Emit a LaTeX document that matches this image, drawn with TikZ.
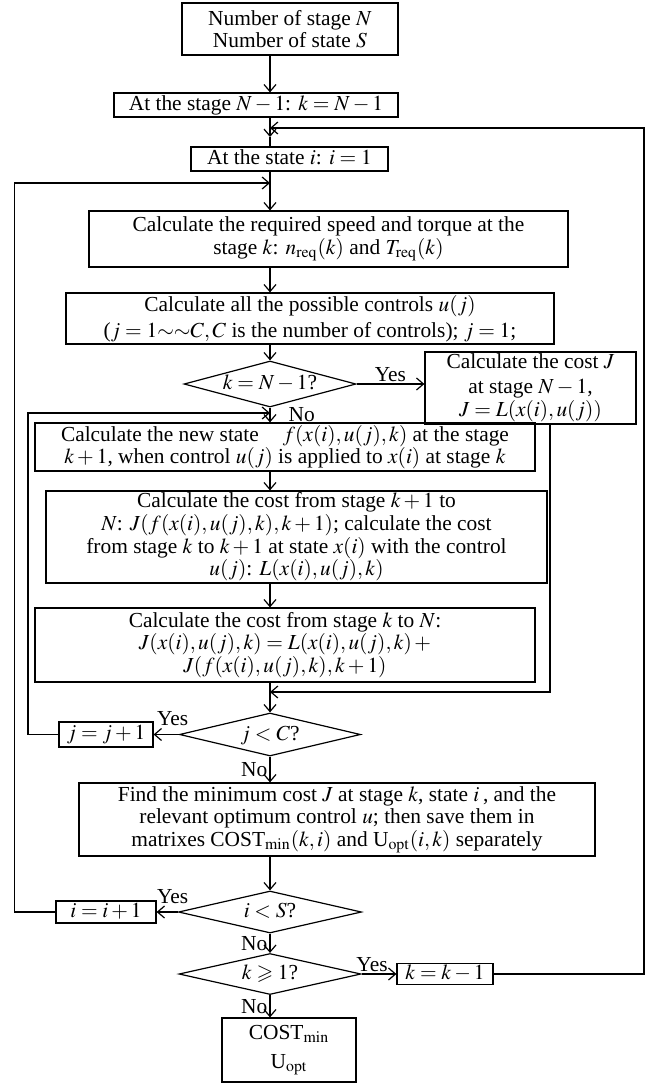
\documentclass[tikz,border=0pt]{standalone}
\usepackage{amsmath,amssymb}
\usepackage{mathptmx}
\usepackage{fontspec}
\setmainfont{Liberation Serif}
\usepackage{tikz}
\usetikzlibrary{arrows.meta,positioning,shapes.geometric}

\begin{document}
\begin{tikzpicture}[
  x=0.5pt, y=-0.5pt,
  font=\fontsize{10.7}{11.3}\selectfont,
  line width=0.6pt,
  box/.style={draw, align=center, inner sep=0pt},
  onebox/.style={box, text height=7.5pt, text depth=2.5pt},
  cond/.style={draw, diamond, aspect=4, inner sep=0pt, text height=7pt, text depth=1.5pt},
  lbl/.style={inner sep=1pt},
  arr/.style={-{Straight Barb[length=3.5pt,width=6pt]}}
]
\useasboundingbox (0,0) rectangle (647,1083);
\coordinate (c) at (270,0);
\coordinate (rx) at (644,0);
\coordinate (lx) at (14.5,0);
\coordinate (ix) at (28,0);
\coordinate (mx) at (550,0);
\coordinate (fb) at (270,128);
\coordinate (m1) at (270,137);
\coordinate (lp) at (270,183);
\coordinate (ip) at (270,413);
\coordinate (mg) at (270,692);

\node[box, minimum width=108pt, minimum height=26pt] (num) at (290,29) {Number of stage $N$\\Number of state $S$};
\node[onebox, minimum width=142pt, minimum height=12pt] (stg) at (256,105) {At the stage $N-1$: $k=N-1$};
\node[onebox, minimum width=98.5pt, minimum height=12pt] (ste) at (289.5,159) {At the state $i$: $i=1$};
\node[box, minimum width=239.5pt, minimum height=28pt] (req) at (328.5,239) {Calculate the required speed and torque at the\\stage $k$: $n_{\mathrm{req}}(k)$ and $T_{\mathrm{req}}(k)$};
\node[box, minimum width=244pt, minimum height=25.5pt] (ctl) at (310,318.5) {Calculate all the possible controls $u(j)$\\[1.5pt]($j=1{\sim}{\sim}C, C$ is the number of controls); $j=1$;};
\node[cond, minimum width=86pt, minimum height=23pt] (dk) at (270,384) {$k=N-1$?};
\node[box, minimum width=105.5pt, minimum height=36pt] (cst) at (530.5,388) {Calculate the cost $J$\\[1.2pt]at stage $N-1$,\\$J=L(x(i),u(j))$};
\node[box, minimum width=250pt, minimum height=24pt] (new) at (285,447) {Calculate the new state\hspace{12pt}$f(x(i),u(j),k)$ at the stage\\$k+1$, when control $u(j)$ is applied to $x(i)$ at stage $k$};
\node[box, minimum width=250.5pt, minimum height=46pt] (fut) at (296.5,537) {Calculate the cost from stage $k+1$ to\\$N$: $J(f(x(i),u(j),k),k+1)$; calculate the cost\\from stage $k$ to $k+1$ at state $x(i)$ with the control\\$u(j)$: $L(x(i),u(j),k)$};
\node[box, minimum width=250pt, minimum height=37pt] (tot) at (285,645) {Calculate the cost from stage $k$ to $N$:\\$J(x(i),u(j),k)=L(x(i),u(j),k)\,+$\\$J(f(x(i),u(j),k),k+1)$};
\node[cond, minimum width=90.5pt, minimum height=21.5pt] (dj) at (270,734.5) {$j<C$?};
\node[onebox, minimum width=47pt, minimum height=12.5pt] (jin) at (106,734.5) {$j=j+1$};
\node[box, minimum width=258pt, minimum height=36.5pt] (fnd) at (337,819.5) {Find the minimum cost $J$ at stage $k$, state $i$\,, and the\\relevant optimum control $u$; then save them in\\matrixes COST$_{\min}(k,i)$ and U$_{\mathrm{opt}}(i,k)$ separately};
\node[cond, minimum width=91.5pt, minimum height=21pt] (di) at (270,912) {$i<S$?};
\node[onebox, minimum width=50pt, minimum height=11pt] (iin) at (106,912) {$i=i+1$};
\node[cond, minimum width=91pt, minimum height=20.5pt] (dk1) at (270,974) {$k\geqslant 1$?};
\node[onebox, minimum width=48pt, minimum height=10.5pt] (kde) at (445,974) {$k=k-1$};
\node[box, minimum width=67pt, minimum height=32pt] (res) at (289,1050) {COST$_{\min}$\\[3pt]U$_{\mathrm{opt}}$};

\draw[arr] (num.south -| c) -- (stg.north -| c);
\draw[arr] (stg.south -| c) -- (m1);
\draw (m1) -- (ste.north -| c);
\draw[arr] (ste.south -| c) -- (req.north -| c);
\draw[arr] (req.south -| c) -- (ctl.north -| c);
\draw[arr] (ctl.south -| c) -- (dk.north);
\draw[arr] (dk.east) -- node[lbl, above] (y1) {Yes} (cst.west |- dk.east);
\draw[arr] (dk.south) -- node[lbl, right=8pt] (n1) {No} (new.north -| c);
\draw[arr] (new.south -| c) -- (fut.north -| c);
\draw[arr] (fut.south -| c) -- (tot.north -| c);
\draw[arr] (tot.south -| c) -- (dj.north);
\draw[arr] (dj.west) -- node[lbl, above=3pt, pos=0.25] (y2) {Yes} (jin.east);
\draw[arr] (dj.south) -- node[lbl, left] (n2) {No} (fnd.north -| c);
\draw[arr] (fnd.south -| c) -- (di.north);
\draw[arr] (di.west) -- node[lbl, above=3pt, pos=0.25] (y3) {Yes} (iin.east);
\draw[arr] (di.south) -- node[lbl, left] (n3) {No} (dk1.north);
\draw[arr] (dk1.east) -- node[lbl, above, pos=0.3] (y4) {Yes} (kde.west);
\draw[arr] (dk1.south) -- node[lbl, left] (n4) {No} (res.north -| c);

\draw[arr] (kde.east) -| (fb -| rx) -- (fb);
\draw[arr] (iin.west) -| (lp -| lx) -- (lp);
\draw[arr] (jin.west) -| (ip -| ix) -- (ip);
\draw[arr] (cst.south -| mx) -- (mg -| mx) -- (mg);
\end{tikzpicture}
\end{document}
